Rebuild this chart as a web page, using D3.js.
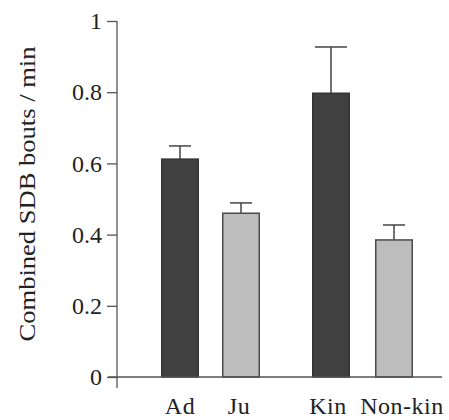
<!DOCTYPE html>
<html>
<head>
<meta charset="utf-8">
<script src="https://cdn.jsdelivr.net/npm/d3@7"></script>
<style>
  body { margin: 0; background: #fff; }
  text { font-family: "Liberation Serif", "DejaVu Serif", serif; fill: #222; }
</style>
</head>
<body>
<div id="chart"></div>
<script>
// Data
const categories = ['Ad', 'Ju', 'Kin', 'Non-kin'];
const means = [0.612, 0.46, 0.797, 0.385];
const errors = [0.037, 0.029, 0.130, 0.042];
const shade = ['dark', 'light', 'dark', 'light'];
const yTicks = [0, 0.2, 0.4, 0.6, 0.8, 1];

const width = 449, height = 420;
const x0 = 117, yTop = 21, yBase = 377;

const svg = d3.select('#chart').append('svg')
  .attr('width', width)
  .attr('height', height);

const y = d3.scaleLinear().domain([0, 1]).range([yBase, yTop]);

// two pairs of bars, with a wider gap between the pairs
const barX = {'Ad': 161, 'Ju': 222, 'Kin': 312, 'Non-kin': 375};
const barW = 38;

const fill = {dark: '#404040', light: '#bdbdbd'};
const stroke = {dark: '#333', light: '#4a4a4a'};

const data = categories.map((c, i) => ({
  cat: c, mean: means[i], err: errors[i], shade: shade[i]
}));

// error bars (drawn first so the stem sits behind the bar)
const eb = svg.append('g').attr('stroke', '#444').attr('stroke-width', 1.5);
eb.selectAll('line.stem')
  .data(data).join('line')
  .attr('x1', d => barX[d.cat] + barW / 2)
  .attr('x2', d => barX[d.cat] + barW / 2)
  .attr('y1', d => y(d.mean))
  .attr('y2', d => y(d.mean + d.err));
eb.selectAll('line.cap')
  .data(data).join('line')
  .attr('x1', d => barX[d.cat] + barW / 2 - (d.cat === 'Kin' ? 16 : 11))
  .attr('x2', d => barX[d.cat] + barW / 2 + (d.cat === 'Kin' ? 16 : 11))
  .attr('y1', d => y(d.mean + d.err))
  .attr('y2', d => y(d.mean + d.err));

// bars
svg.append('g').selectAll('rect')
  .data(data).join('rect')
  .attr('x', d => barX[d.cat] + 0.75)
  .attr('y', d => y(d.mean))
  .attr('width', barW - 1.5)
  .attr('height', d => y(0) - y(d.mean))
  .attr('fill', d => fill[d.shade])
  .attr('stroke', d => stroke[d.shade])
  .attr('stroke-width', 1.5);

// y axis
const yAxis = d3.axisLeft(y)
  .tickValues(yTicks)
  .tickFormat(d => d === 0 ? '0' : d === 1 ? '1' : d3.format('.1f')(d))
  .tickSize(10)
  .tickSizeOuter(0)
  .tickPadding(5);

const gy = svg.append('g')
  .attr('transform', `translate(${x0},0)`)
  .call(yAxis);
gy.select('.domain').remove();
gy.selectAll('line').attr('stroke', '#555').attr('stroke-width', 1.3);
gy.selectAll('text')
  .attr('font-size', 24)
  .attr('fill', '#222')
  .attr('font-family', '"Liberation Serif", serif');
gy.append('line')
  .attr('x1', 0).attr('x2', 0)
  .attr('y1', yTop).attr('y2', yBase + 11)
  .attr('stroke', '#555').attr('stroke-width', 1.3);

// x axis baseline
svg.append('line')
  .attr('x1', 108).attr('x2', 442)
  .attr('y1', yBase).attr('y2', yBase)
  .attr('stroke', '#555').attr('stroke-width', 1.3);

// category labels
svg.append('g').selectAll('text')
  .data(data).join('text')
  .attr('x', d => barX[d.cat] + barW / 2 + (d.cat === 'Non-kin' ? 8 : d.cat === 'Kin' ? -3 : d.cat === 'Ju' ? -2 : 0))
  .attr('y', 414)
  .attr('text-anchor', 'middle')
  .attr('font-size', 24)
  .attr('letter-spacing', 0.5)
  .text(d => d.cat);

// y label
svg.append('text')
  .attr('transform', `translate(35,${194}) rotate(-90)`)
  .attr('text-anchor', 'middle')
  .attr('font-size', 24)
  .attr('textLength', 295)
  .attr('lengthAdjust', 'spacingAndGlyphs')
  .text('Combined SDB bouts / min');
</script>
</body>
</html>
